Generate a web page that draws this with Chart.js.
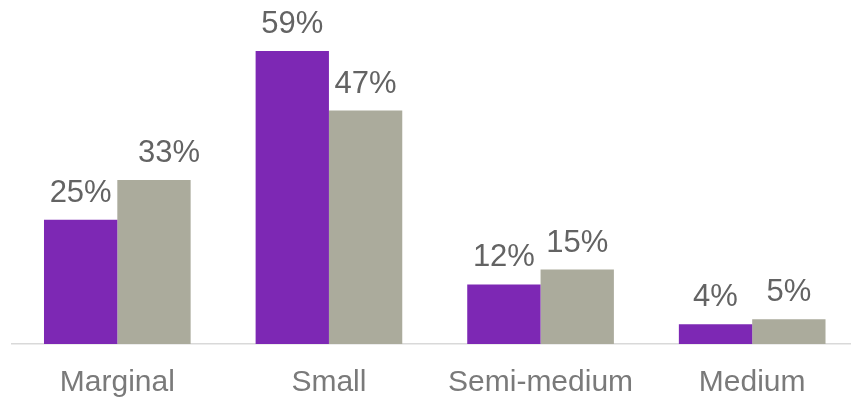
<!DOCTYPE html>
<html>
<head>
<meta charset="utf-8">
<script src="https://cdn.jsdelivr.net/npm/chart.js@4.4.0/dist/chart.umd.min.js"></script>
<style>
  html, body { margin: 0; padding: 0; background: #fff; overflow: hidden; }
  #wrap { position: relative; width: 858px; height: 401px; }
</style>
</head>
<body>
<div id="wrap"><canvas id="c"></canvas></div>
<script>
// Company size groups and their shares (%) in the two series
const categories = ['Marginal', 'Small', 'Semi-medium', 'Medium'];
const seriesA = [25, 59, 12, 4];
const seriesB = [33, 47, 15, 5];

const colorA = '#7d28b4';
const colorB = '#abab9c';

// Percent labels above each bar; one label is nudged sideways ("dataset-index": px)
const valueLabels = {
  id: 'valueLabels',
  afterDatasetsDraw(chart, args, opts) {
    const ctx = chart.ctx;
    const shift = opts.shift || {};
    ctx.save();
    ctx.font = '31px "Liberation Sans", Arial, sans-serif';
    ctx.fillStyle = '#636363';
    ctx.textAlign = 'center';
    ctx.textBaseline = 'alphabetic';
    chart.data.datasets.forEach((ds, i) => {
      chart.getDatasetMeta(i).data.forEach((bar, j) => {
        const dx = shift[i + '-' + j] || 0;
        ctx.fillText(ds.data[j] + '%', bar.x + dx, bar.y - 18);
      });
    });
    ctx.restore();
  }
};

new Chart(document.getElementById('c'), {
  type: 'bar',
  data: {
    labels: categories,
    datasets: [
      { data: seriesA, backgroundColor: colorA },
      { data: seriesB, backgroundColor: colorB }
    ]
  },
  options: {
    responsive: true,
    maintainAspectRatio: false,
    animation: false,
    layout: { padding: { left: 11.5, right: 0, top: 46, bottom: 0 } },
    datasets: { bar: { categoryPercentage: 0.693, barPercentage: 1.0 } },
    plugins: {
      legend: { display: false },
      tooltip: { enabled: false },
      valueLabels: { shift: { '1-0': 15 } }
    },
    scales: {
      x: {
        grid: { display: false, drawTicks: false },
        border: { display: true, color: '#d9d9d9', width: 1.5 },
        ticks: {
          color: '#7a7a7a',
          padding: 21,
          font: { family: '"Liberation Sans", Arial, sans-serif', size: 30 }
        },
        afterFit(axis) { axis.height = 57; }
      },
      y: {
        display: false,
        min: 0,
        max: 60
      }
    }
  },
  plugins: [valueLabels]
});
</script>
</body>
</html>
